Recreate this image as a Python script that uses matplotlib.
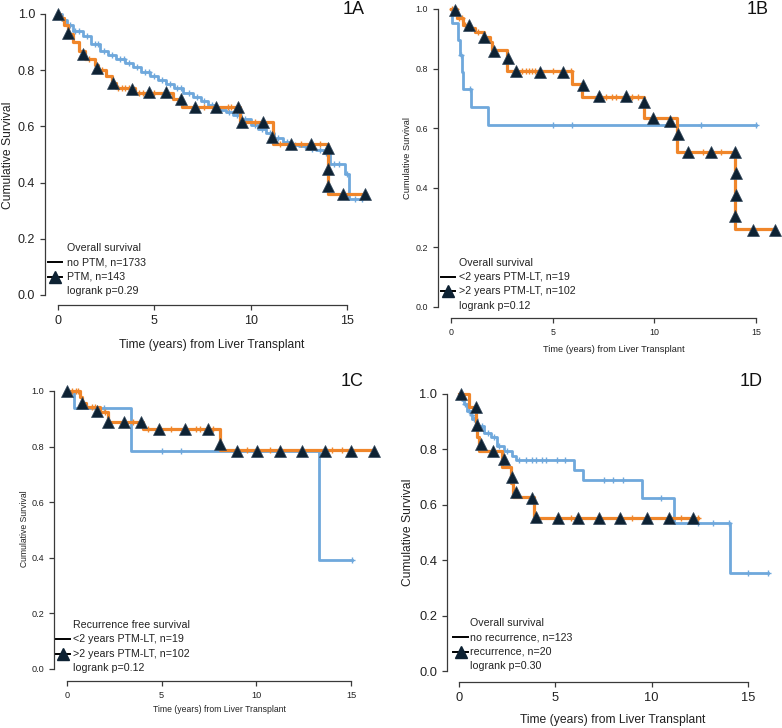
import numpy as np
import matplotlib.pyplot as plt
from matplotlib.lines import Line2D

W, H = 782, 728
BLUE = '#6fa8dc'
ORANGE = '#f0862a'
NAVY = '#0e2233'
AXC = '#3a3a3a'
TICKFONT = 'Liberation Sans'
LEGFONT = 'Liberation Sans'

# ---------------- 1A : no PTM vs PTM ----------------
a_blue_t = [0, 0.2, 0.45, 0.8, 1.3, 1.7, 2.2, 2.6, 3.0, 3.5, 3.9, 4.3, 4.8, 5.2, 5.6, 6.0,
            6.5, 7.0, 7.4, 7.8, 8.2, 8.7, 9.1, 9.5, 10.0, 10.4, 10.8, 11.2, 11.7, 12.1,
            12.5, 13.0, 13.4, 13.8, 14.1, 14.9, 15.1, 15.8]
a_blue_s = [1.0, 0.98, 0.96, 0.94, 0.92, 0.895, 0.87, 0.855, 0.84, 0.825, 0.81, 0.795,
            0.78, 0.765, 0.75, 0.735, 0.72, 0.705, 0.69, 0.675, 0.66, 0.65, 0.64, 0.625,
            0.605, 0.59, 0.575, 0.56, 0.545, 0.535, 0.53, 0.52, 0.515, 0.505, 0.467,
            0.43, 0.342, 0.342]
a_blue_cens = [0.3, 0.6, 0.9, 1.1, 1.5, 1.9, 2.1, 2.4, 2.8, 3.2, 3.4, 3.7, 4.1, 4.5, 4.7,
               5.0, 5.4, 5.8, 6.2, 6.4, 6.8, 7.2, 7.6, 8.0, 8.4, 8.9, 9.3, 9.7, 10.2, 10.6,
               11.0, 11.4, 11.9, 12.3, 12.8, 13.2, 13.6, 13.9, 14.3, 14.6, 15.0, 15.4, 15.8]
a_or_t = [0, 0.1, 0.3, 0.5, 0.8, 1.1, 1.4, 1.9, 2.1, 2.5, 2.8, 3.0, 4.0, 5.98, 6.45,
          9.45, 11.15, 14.0, 16.0]
a_or_s = [1.0, 0.985, 0.96, 0.93, 0.9, 0.87, 0.84, 0.82, 0.8, 0.78, 0.755, 0.735, 0.72,
          0.696, 0.668, 0.617, 0.537, 0.358, 0.358]
a_or_cens = [0.2, 1.6, 2.3, 3.1, 3.3, 3.5, 3.7, 4.2, 4.4, 5.0, 7.6, 8.8, 9.0, 10.2, 11.5,
             12.6, 13.6]
a_tri_t = [0, 0.54, 1.28, 2.04, 2.83, 3.84, 4.73, 5.58, 6.41, 7.1, 8.19, 9.33, 9.57, 10.64,
           11.13, 12.08, 13.12, 14.03, 14.03, 14.0, 14.79, 15.95]
a_tri_s = [1.0, 0.931, 0.856, 0.807, 0.756, 0.734, 0.721, 0.721, 0.696, 0.668, 0.668, 0.668,
           0.617, 0.617, 0.563, 0.537, 0.537, 0.524, 0.448, 0.388, 0.358, 0.358]
a_legend = ['Overall survival', 'no PTM, n=1733', 'PTM, n=143', 'logrank p=0.29']

# ---------------- 1B : <2 vs >2 years PTM-LT, overall ----------------
b_blue_t = [0, 0.03, 0.33, 0.44, 0.52, 0.61, 0.98, 1.82, 15.0]
b_blue_s = [1.0, 0.952, 0.895, 0.845, 0.79, 0.733, 0.672, 0.61, 0.61]
b_blue_cens = [0.48, 0.95, 5.04, 5.97, 12.3, 15.0]
b_or_t = [0, 0.3, 0.6, 0.9, 1.2, 1.6, 1.9, 2.0, 2.77, 5.97, 6.42, 9.5, 11.1, 13.98, 15.95]
b_or_s = [1.0, 0.969, 0.946, 0.935, 0.924, 0.907, 0.89, 0.862, 0.793, 0.75, 0.705, 0.633,
          0.52, 0.263, 0.263]
b_or_cens = [0.05, 0.15, 0.25, 0.4, 0.55, 0.7, 1.0, 1.35, 3.5, 3.7, 3.85, 4.0, 4.15, 5.0,
             5.9, 7.6, 7.9, 8.1, 8.9, 9.2, 12.4, 13.3]
b_tri_t = [0.2, 0.89, 1.62, 2.12, 2.8, 3.2, 4.38, 5.51, 6.47, 7.3, 8.62, 9.5, 9.93, 10.75,
           11.14, 11.68, 12.79, 13.97, 14.03, 14.03, 13.97, 14.87, 15.95]
b_tri_s = [0.997, 0.946, 0.905, 0.86, 0.837, 0.793, 0.789, 0.789, 0.745, 0.708, 0.708,
           0.689, 0.633, 0.625, 0.58, 0.52, 0.52, 0.52, 0.45, 0.376, 0.304, 0.26, 0.26]
b_legend = ['Overall survival', '<2 years PTM-LT, n=19', '>2 years PTM-LT, n=102',
            'logrank p=0.12']

# ---------------- 1C : <2 vs >2 years PTM-LT, recurrence free ----------------
c_blue_t = [0, 0.37, 3.39, 13.3, 15.07]
c_blue_s = [1.0, 0.94, 0.785, 0.392, 0.392]
c_blue_cens = [1.93, 5.0, 6.0, 15.07]
c_or_t = [0, 0.7, 0.8, 1.0, 1.75, 2.16, 4.04, 8.09, 16.23]
c_or_s = [1.0, 0.98, 0.958, 0.943, 0.925, 0.89, 0.862, 0.788, 0.788]
c_or_cens = [0.25, 0.45, 0.6, 1.3, 1.5, 2.0, 3.5, 4.3, 5.5, 6.8, 7.0, 7.7, 9.5, 10.7, 14.0,
             14.5]
c_tri_t = [0, 0.79, 1.58, 2.16, 2.99, 3.9, 4.87, 6.21, 7.47, 8.09, 9.0, 10.06, 11.25, 12.4,
           13.63, 15.0, 16.23]
c_tri_s = [1.0, 0.958, 0.928, 0.89, 0.89, 0.89, 0.862, 0.862, 0.862, 0.81, 0.785, 0.785,
           0.785, 0.785, 0.785, 0.785, 0.785]
c_legend = ['Recurrence free survival', '<2 years PTM-LT, n=19', '>2 years PTM-LT, n=102',
            'logrank p=0.12']

# ---------------- 1D : no recurrence vs recurrence ----------------
d_blue_t = [0, 0.15, 0.26, 0.43, 0.6, 0.69, 0.95, 1.3, 1.65, 1.99, 2.34, 2.77, 2.95, 5.98,
            6.45, 9.49, 11.15, 14.05, 16.04]
d_blue_s = [1.0, 0.98, 0.964, 0.94, 0.925, 0.91, 0.886, 0.86, 0.843, 0.813, 0.793, 0.777,
            0.761, 0.725, 0.689, 0.623, 0.536, 0.355, 0.355]
d_blue_cens = [0.3, 0.5, 0.65, 0.8, 1.0, 1.2, 1.5, 1.8, 2.1, 2.5, 3.1, 3.5, 3.8, 4.0, 4.3,
               4.5, 5.1, 5.5, 7.5, 8.0, 8.5, 10.5, 12.4, 13.2, 14.0, 15.0, 16.04]
d_or_t = [0, 0.52, 0.87, 0.95, 1.03, 2.25, 2.69, 2.82, 3.9, 12.4]
d_or_s = [1.0, 0.952, 0.892, 0.843, 0.793, 0.735, 0.68, 0.627, 0.552, 0.552]
d_or_cens = [5.8, 9.0, 11.5, 12.4]
d_tri_t = [0.09, 0.87, 0.92, 1.13, 1.79, 2.34, 2.74, 2.95, 3.8, 3.99, 5.12, 6.19, 7.28, 8.38,
           9.75, 10.89, 12.14]
d_tri_s = [1.0, 0.954, 0.888, 0.819, 0.795, 0.765, 0.702, 0.645, 0.624, 0.557, 0.554, 0.554,
           0.551, 0.551, 0.551, 0.551, 0.551]
d_legend = ['Overall survival', 'no recurrence, n=123', 'recurrence, n=20', 'logrank p=0.30']


def step_at(t, times, surv):
    idx = np.searchsorted(times, t, side='right') - 1
    return np.asarray(surv)[idx]


def fx(px):
    return px / W


def fy(py):
    return 1 - py / H


def panel(fig, lay, blue, orange, tri, legend, tag):
    x0, x15, y0, y1 = lay['x0'], lay['x15'], lay['y0'], lay['y1']
    sx = (x15 - x0) / 15.0
    sy = (y0 - y1) / 1.0
    xlim = (-1.2, 16.8)
    ylim = (-0.1, 1.05)
    left = x0 + xlim[0] * sx
    right = x0 + xlim[1] * sx
    bot = y0 - ylim[0] * sy
    top = y0 - ylim[1] * sy
    ax = fig.add_axes([fx(left), fy(bot), (right - left) / W, (bot - top) / H])
    ax.set_xlim(*xlim)
    ax.set_ylim(*ylim)
    ax.patch.set_alpha(0)

    for sp in ('top', 'right'):
        ax.spines[sp].set_visible(False)
    ax.spines['left'].set_position(('data', (lay['yax'] - x0) / sx))
    ax.spines['bottom'].set_position(('data', (y0 - lay['xax']) / sy))
    ax.spines['left'].set_bounds(0, 1)
    ax.spines['bottom'].set_bounds(0, 15)
    for sp in ('left', 'bottom'):
        ax.spines[sp].set_color(AXC)
        ax.spines[sp].set_linewidth(0.9)

    ax.set_xticks([0, 5, 10, 15])
    ax.set_yticks([0, 0.2, 0.4, 0.6, 0.8, 1.0])
    ax.set_yticklabels(['%.1f' % v for v in [0, 0.2, 0.4, 0.6, 0.8, 1.0]])
    ax.tick_params(direction='out', length=3.6, width=0.9, color=AXC,
                   labelsize=lay['tfs'], pad=3.5, labelcolor='#222')
    for lab in ax.get_xticklabels() + ax.get_yticklabels():
        lab.set_fontfamily(TICKFONT)

    bt, bs, bc = blue
    ot, os_, oc = orange
    ax.step(bt, bs, where='post', color=BLUE, lw=2.0, clip_on=False)
    ax.plot(bc, step_at(bc, bt, bs), '+', color=BLUE, ms=5, mew=1.0, clip_on=False)
    ax.step(ot, os_, where='post', color=ORANGE, lw=2.3, clip_on=False)
    ax.plot(oc, step_at(oc, ot, os_), '+', color=ORANGE, ms=5, mew=1.0, clip_on=False)
    ax.plot(tri[0], tri[1], '^', color=NAVY, ms=8.5, mec='#33485c', mew=0.5,
            ls='none', clip_on=False, zorder=5)

    fig.text(fx(lay['ylab'][0]), fy(lay['ylab'][1]), 'Cumulative Survival', rotation=90,
             ha='center', va='center', fontsize=lay['lfs'], family=TICKFONT, color='#222')
    fig.text(fx(lay['xlab'][0]), fy(lay['xlab'][1]), 'Time (years) from Liver Transplant',
             ha='center', va='center', fontsize=lay['lfs'], family=TICKFONT, color='#222')
    fig.text(fx(lay['tag'][0]), fy(lay['tag'][1]), tag, ha='center', va='center',
             fontsize=13, family=TICKFONT, color='#111')

    # legend
    ly, dy = lay['leg_y'], lay['leg_dy']
    lx0, lx1 = lay['leg_line']
    for i, txt in enumerate(legend):
        fig.text(fx(lay['leg_x']), fy(ly + i * dy), txt, ha='left', va='center',
                 fontsize=7.7, family=LEGFONT, color='#222')
    fig.add_artist(Line2D([fx(lx0), fx(lx1)], [fy(ly + dy)] * 2, color='black', lw=1.4))
    fig.add_artist(Line2D([fx(lx0), fx(lx1)], [fy(ly + 2 * dy)] * 2, color='black', lw=1.4))
    fig.add_artist(Line2D([fx((lx0 + lx1) / 2)], [fy(ly + 2 * dy)], marker='^', color=NAVY,
                          ms=8, ls='none'))
    return ax


lay_a = dict(x0=58, x15=347, y0=295, y1=14, yax=45, xax=305, tfs=9, lfs=8.7,
             ylab=(8, 155), xlab=(212, 345), leg_x=67, leg_y=248, leg_dy=14.3,
             leg_line=(48, 62), tag=(354, 10))
lay_b = dict(x0=451, x15=756, y0=307, y1=9, yax=438, xax=318, tfs=6.4, lfs=6.7,
             ylab=(407, 158), xlab=(614, 349), leg_x=459, leg_y=263, leg_dy=14.2,
             leg_line=(441, 455), tag=(758, 9))
lay_c = dict(x0=67, x15=351, y0=669, y1=391, yax=54, xax=681, tfs=6.6, lfs=6.2,
             ylab=(25, 529), xlab=(219, 709), leg_x=73, leg_y=625, leg_dy=14.3,
             leg_line=(56, 70), tag=(352, 381))
lay_d = dict(x0=459, x15=748, y0=671, y1=394, yax=447, xax=682, tfs=9.3, lfs=8.7,
             ylab=(408, 532), xlab=(613, 720), leg_x=470, leg_y=623, leg_dy=14.3,
             leg_line=(453, 468), tag=(751, 381))

fig = plt.figure(figsize=(W / 100, H / 100), dpi=100)
fig.patch.set_facecolor('white')

panel(fig, lay_a, (a_blue_t, a_blue_s, a_blue_cens), (a_or_t, a_or_s, a_or_cens),
      (a_tri_t, a_tri_s), a_legend, '1A')
panel(fig, lay_b, (b_blue_t, b_blue_s, b_blue_cens), (b_or_t, b_or_s, b_or_cens),
      (b_tri_t, b_tri_s), b_legend, '1B')
panel(fig, lay_c, (c_blue_t, c_blue_s, c_blue_cens), (c_or_t, c_or_s, c_or_cens),
      (c_tri_t, c_tri_s), c_legend, '1C')
panel(fig, lay_d, (d_blue_t, d_blue_s, d_blue_cens), (d_or_t, d_or_s, d_or_cens),
      (d_tri_t, d_tri_s), d_legend, '1D')

fig.savefig('out.png', dpi=100)
